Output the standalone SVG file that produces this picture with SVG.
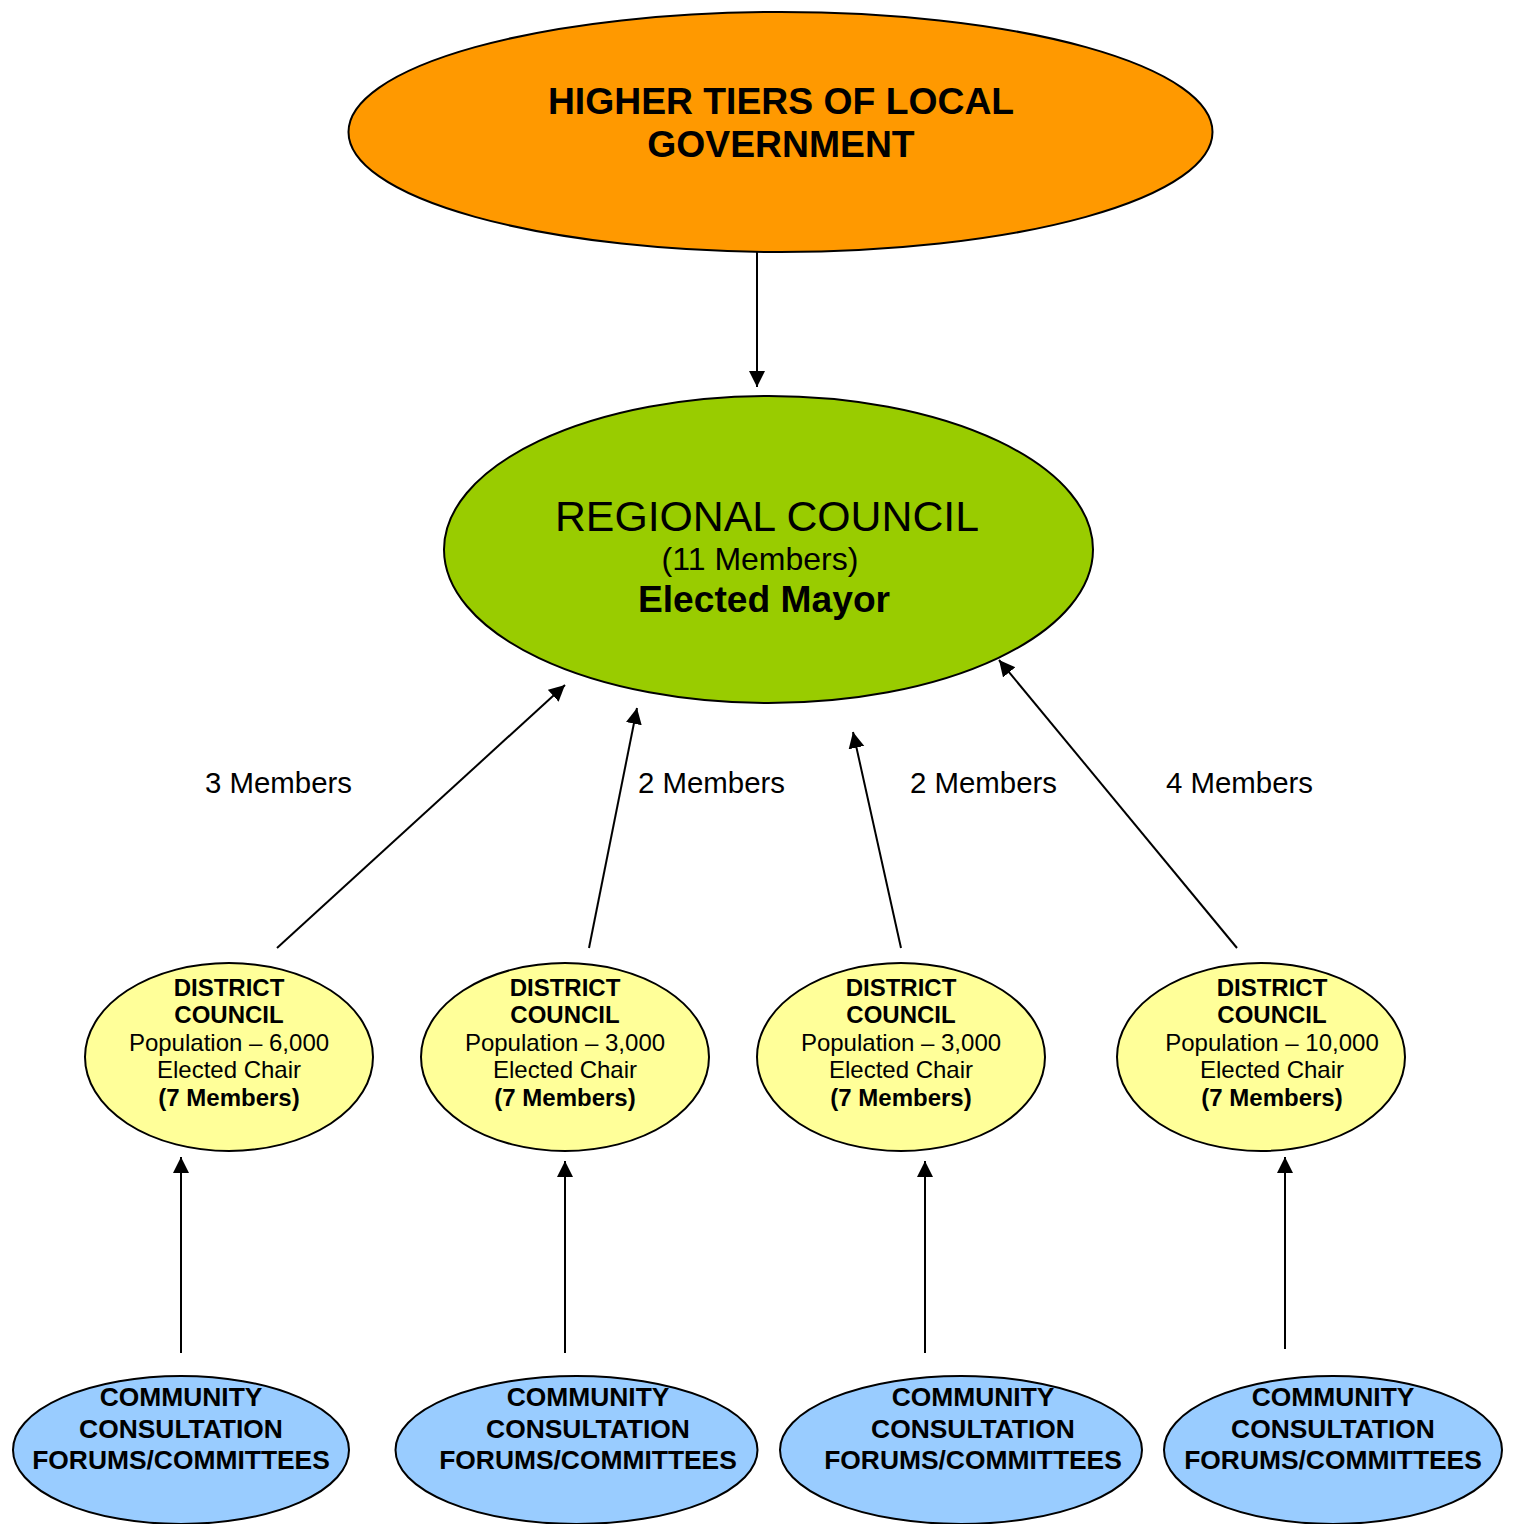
<svg xmlns="http://www.w3.org/2000/svg" width="1516" height="1524" viewBox="0 0 1516 1524">
<style>
text{font-family:"Liberation Sans",Arial,sans-serif;fill:#000;text-anchor:middle}
.b{font-weight:bold}
.node{stroke:#000;stroke-width:2}
.conn line{stroke:#000;stroke-width:2;marker-end:url(#ah)}
.lbl{font-size:29.4px;text-anchor:start}
.dc{font-size:24px}
.cc{font-size:26.4px;font-weight:bold}
</style>
<defs>
<marker id="ah" markerUnits="userSpaceOnUse" markerWidth="18" markerHeight="18" refX="16" refY="8" orient="auto">
<path d="M0,0 L16,8 L0,16 Z" fill="#000"/>
</marker>
</defs>
<rect width="1516" height="1524" fill="#fff"/>
<g id="higher">
<ellipse class="node" cx="780.5" cy="132" rx="432" ry="120" fill="#FF9900"/>
<text class="b" x="781" y="114" font-size="37.3">HIGHER TIERS OF LOCAL</text>
<text class="b" x="781" y="157" font-size="37.3">GOVERNMENT</text>
</g>
<g id="regional">
<ellipse class="node" cx="768.5" cy="549.5" rx="324.5" ry="153.5" fill="#99CC00"/>
<text x="767" y="531" font-size="42.8">REGIONAL COUNCIL</text>
<text x="760" y="570" font-size="32">(11 Members)</text>
<text class="b" x="764" y="612" font-size="37.2">Elected Mayor</text>
</g>
<g id="district1">
<ellipse class="node" cx="229" cy="1057" rx="144" ry="94" fill="#FFFF99"/>
<text class="dc b" x="229" y="996">DISTRICT</text>
<text class="dc b" x="229" y="1023">COUNCIL</text>
<text class="dc" x="229" y="1051">Population – 6,000</text>
<text class="dc" x="229" y="1078">Elected Chair</text>
<text class="dc b" x="229" y="1106">(7 Members)</text>
</g>
<g id="district2">
<ellipse class="node" cx="565" cy="1057" rx="144" ry="94" fill="#FFFF99"/>
<text class="dc b" x="565" y="996">DISTRICT</text>
<text class="dc b" x="565" y="1023">COUNCIL</text>
<text class="dc" x="565" y="1051">Population – 3,000</text>
<text class="dc" x="565" y="1078">Elected Chair</text>
<text class="dc b" x="565" y="1106">(7 Members)</text>
</g>
<g id="district3">
<ellipse class="node" cx="901" cy="1057" rx="144" ry="94" fill="#FFFF99"/>
<text class="dc b" x="901" y="996">DISTRICT</text>
<text class="dc b" x="901" y="1023">COUNCIL</text>
<text class="dc" x="901" y="1051">Population – 3,000</text>
<text class="dc" x="901" y="1078">Elected Chair</text>
<text class="dc b" x="901" y="1106">(7 Members)</text>
</g>
<g id="district4">
<ellipse class="node" cx="1261" cy="1057" rx="144" ry="94" fill="#FFFF99"/>
<text class="dc b" x="1272" y="996">DISTRICT</text>
<text class="dc b" x="1272" y="1023">COUNCIL</text>
<text class="dc" x="1272" y="1051">Population – 10,000</text>
<text class="dc" x="1272" y="1078">Elected Chair</text>
<text class="dc b" x="1272" y="1106">(7 Members)</text>
</g>
<g id="community1">
<ellipse class="node" cx="181" cy="1450" rx="168" ry="74" fill="#99CCFF"/>
<text class="cc" x="181" y="1406">COMMUNITY</text>
<text class="cc" x="181" y="1438">CONSULTATION</text>
<text class="cc" x="181" y="1469">FORUMS/COMMITTEES</text>
</g>
<g id="community2">
<ellipse class="node" cx="576.5" cy="1450" rx="181" ry="74" fill="#99CCFF"/>
<text class="cc" x="588" y="1406">COMMUNITY</text>
<text class="cc" x="588" y="1438">CONSULTATION</text>
<text class="cc" x="588" y="1469">FORUMS/COMMITTEES</text>
</g>
<g id="community3">
<ellipse class="node" cx="961" cy="1450" rx="181" ry="74" fill="#99CCFF"/>
<text class="cc" x="973" y="1406">COMMUNITY</text>
<text class="cc" x="973" y="1438">CONSULTATION</text>
<text class="cc" x="973" y="1469">FORUMS/COMMITTEES</text>
</g>
<g id="community4">
<ellipse class="node" cx="1333" cy="1450" rx="169" ry="74" fill="#99CCFF"/>
<text class="cc" x="1333" y="1406">COMMUNITY</text>
<text class="cc" x="1333" y="1438">CONSULTATION</text>
<text class="cc" x="1333" y="1469">FORUMS/COMMITTEES</text>
</g>
<g id="connectors" class="conn">
<line x1="757" y1="252" x2="757" y2="387"/>
<line x1="277" y1="948" x2="565" y2="685"/>
<line x1="589" y1="948" x2="637" y2="708"/>
<line x1="901" y1="948" x2="853" y2="732"/>
<line x1="1237" y1="948" x2="999" y2="660"/>
<line x1="181" y1="1353" x2="181" y2="1157"/>
<line x1="565" y1="1353" x2="565" y2="1161"/>
<line x1="925" y1="1353" x2="925" y2="1161"/>
<line x1="1285" y1="1349" x2="1285" y2="1157"/>
</g>
<g id="labels">
<text class="lbl" x="205" y="793">3 Members</text>
<text class="lbl" x="638" y="793">2 Members</text>
<text class="lbl" x="910" y="793">2 Members</text>
<text class="lbl" x="1166" y="793">4 Members</text>
</g>
</svg>
